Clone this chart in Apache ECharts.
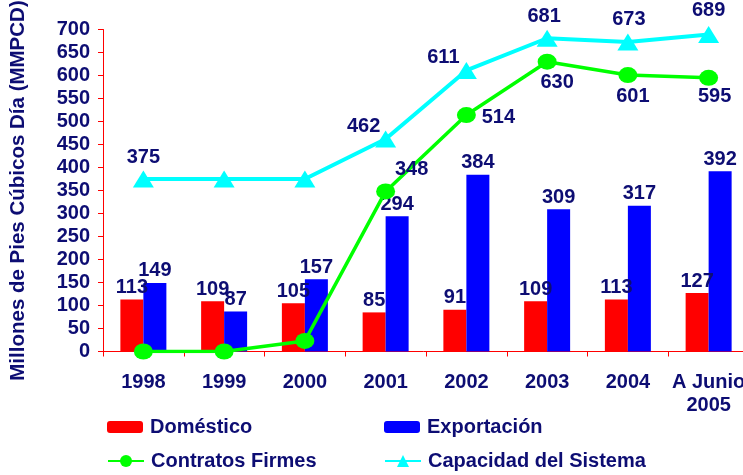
<!DOCTYPE html>
<html>
<head>
<meta charset="utf-8">
<title>Capacidad y Contratos</title>
<script src="https://cdn.jsdelivr.net/npm/echarts@6/dist/echarts.min.js"></script>
<style>
  html, body { margin: 0; padding: 0; background: #ffffff; }
  #chart { width: 743px; height: 475px; }
</style>
</head>
<body>
<div id="chart"></div>
<script>
// Gas volumes, millions of cubic feet per day
const categories = ['1998', '1999', '2000', '2001', '2002', '2003', '2004', 'A Junio\n2005'];
const domestico = [113, 109, 105, 85, 91, 109, 113, 127];
const exportacion = [149, 87, 157, 294, 384, 309, 317, 392];
const contratosFirmes = [0, 0, 23, 348, 514, 630, 601, 595];
const capacidadSistema = [375, 375, 375, 462, 611, 681, 673, 689];
const yTicks = { min: 0, max: 700, interval: 50 };

// Label placement around each line point (null = no label)
const contratosLabelOffsets = [null, null, null, [26, -22], [32, 2], [10, 21], [5, 21], [6, 19]];
const capacidadLabelOffsets = [[0, -22], null, null, [-22, -12], [-23, -13], [-3, -22], [1, -22], [0, -24]];

const NAVY = '#0d0d73';
const FONT = '"Liberation Sans", Arial, sans-serif';
const FS = 20;

function lineData(values, offsets) {
  return values.map((v, i) => {
    const off = offsets[i];
    if (!off) return { value: v, label: { show: false } };
    return { value: v, label: { show: true, position: 'inside', offset: off } };
  });
}

const labelText = { color: NAVY, fontFamily: FONT, fontWeight: 'bold', fontSize: FS };

const chart = echarts.init(document.getElementById('chart'), null, { renderer: 'canvas' });

chart.setOption({
  animation: false,
  backgroundColor: '#ffffff',
  textStyle: { fontFamily: FONT },
  grid: { left: 103, top: 29.5, width: 646, height: 322, containLabel: false, outerBoundsMode: 'none' },
  legend: [
    { data: ['Doméstico'], left: 107, top: 417, itemHeight: 12 },
    { data: ['Exportación'], left: 384, top: 417, itemHeight: 12 },
    { data: ['Contratos Firmes'], left: 107, top: 451, itemHeight: 15 },
    { data: ['Capacidad del Sistema'], left: 384, top: 451, itemHeight: 15 }
  ].map(l => Object.assign({
    orient: 'horizontal',
    itemWidth: 36,
    itemGap: 10,
    padding: 0,
    textStyle: { color: NAVY, fontFamily: FONT, fontWeight: 'bold', fontSize: FS, padding: [5, 0, 0, 2] }
  }, l)),
  xAxis: {
    type: 'category',
    data: categories,
    boundaryGap: true,
    axisLine: { lineStyle: { color: '#ff0000', width: 1 } },
    axisTick: { show: true, length: 5, lineStyle: { color: '#ff0000' } },
    axisLabel: {
      color: NAVY, fontFamily: FONT, fontWeight: 'bold', fontSize: FS,
      margin: 19, lineHeight: 23, interval: 0
    },
    splitLine: { show: false }
  },
  yAxis: {
    type: 'value',
    min: yTicks.min,
    max: yTicks.max,
    interval: yTicks.interval,
    name: 'Millones de Pies Cúbicos Día (MMPCD)',
    nameLocation: 'middle',
    nameGap: 74,
    nameTextStyle: { color: NAVY, fontFamily: FONT, fontWeight: 'bold', fontSize: 20.5 },
    axisLine: { show: true, lineStyle: { color: '#ff0000', width: 1 } },
    axisTick: { show: true, length: 5, lineStyle: { color: '#ff0000' } },
    axisLabel: { color: NAVY, fontFamily: FONT, fontWeight: 'bold', fontSize: FS, margin: 13 },
    splitLine: { show: false }
  },
  series: [
    {
      name: 'Doméstico',
      type: 'bar',
      data: domestico,
      barWidth: 23,
      barGap: '0%',
      itemStyle: { color: '#ff0000' },
      label: Object.assign({ show: true, position: 'top', distance: 2 }, labelText),
      z: 2
    },
    {
      name: 'Exportación',
      type: 'bar',
      data: exportacion,
      barWidth: 23,
      barGap: '0%',
      itemStyle: { color: '#0000ff' },
      label: Object.assign({ show: true, position: 'top', distance: 2 }, labelText),
      z: 2
    },
    {
      name: 'Contratos Firmes',
      type: 'line',
      data: lineData(contratosFirmes, contratosLabelOffsets),
      symbol: 'circle',
      symbolSize: [19, 16],
      lineStyle: { color: '#00ff00', width: 3.5 },
      itemStyle: { color: '#00ff00' },
      label: labelText,
      z: 4
    },
    {
      name: 'Capacidad del Sistema',
      type: 'line',
      data: lineData(capacidadSistema, capacidadLabelOffsets),
      symbol: 'triangle',
      symbolSize: [21, 17],
      lineStyle: { color: '#00ffff', width: 4 },
      itemStyle: { color: '#00ffff' },
      label: labelText,
      z: 3
    }
  ]
});
</script>
</body>
</html>
